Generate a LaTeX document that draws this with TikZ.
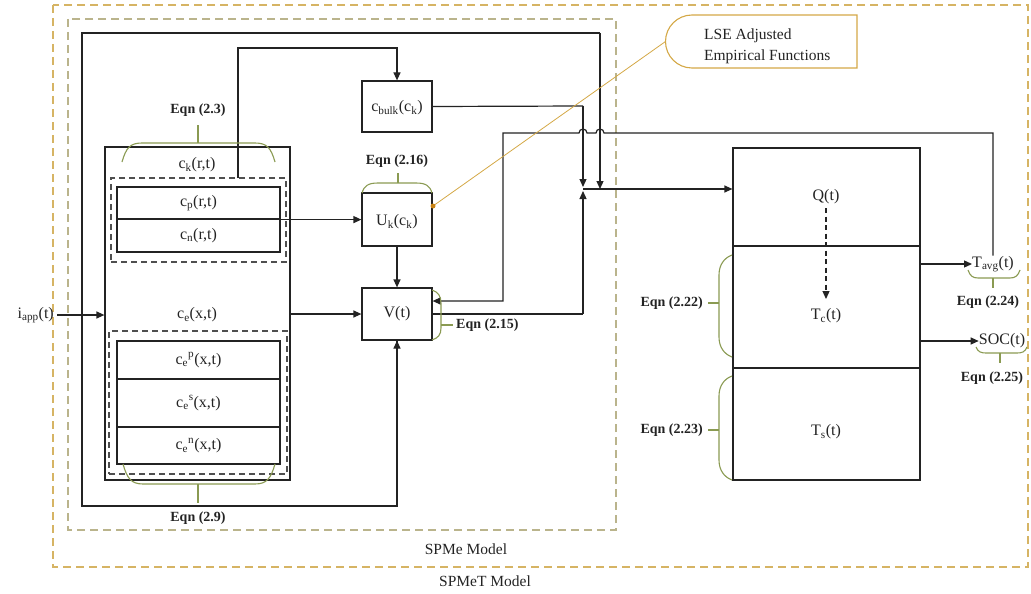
\documentclass[tikz,border=0pt]{standalone}
\usepackage{fontspec}
\setmainfont{Liberation Serif}
\usetikzlibrary{arrows.meta,calc,fit}

\definecolor{ink}{RGB}{35,35,35}
\definecolor{bracegreen}{RGB}{138,154,82}
\definecolor{framegold}{RGB}{214,180,100}
\definecolor{framekhaki}{RGB}{186,180,140}
\definecolor{callgold}{RGB}{212,168,70}
\definecolor{dotorange}{RGB}{200,130,20}

\begin{document}
\begin{tikzpicture}[x=1pt,y=-1pt,
  font=\fontsize{16}{18}\selectfont,
  wire/.style={draw=ink, line width=1.2pt},
  arr/.style={wire,-{Triangle[length=8pt,width=7pt]}},
  block/.style={draw=ink, line width=1.2pt, rectangle, inner sep=0pt},
  grpbox/.style={draw=ink!80, dash pattern=on 6pt off 4pt, line width=1.1pt, rectangle, inner sep=0pt},
  lbl/.style={inner sep=0pt, text=ink},
  eqn/.style={inner sep=0pt, text=ink, font=\fontsize{14}{16}\selectfont\bfseries},
  brace/.style={draw=bracegreen, line width=1.1pt},
  model/.style={inner sep=0pt, text=ink, font=\fontsize{15.5}{18}\selectfont}
]
\useasboundingbox (0,0) rectangle (1031,594);

% ---- model frames ----
\draw[framegold, line width=1.1pt, dash pattern=on 8pt off 5pt] (53,5) rectangle (1028,567);
\draw[framekhaki, line width=1.1pt, dash pattern=on 8pt off 5pt] (68,19) rectangle (616,530);
\node[model] (spme) at (466,549) {SPMe Model};
\node[model] (spmet) at (485,581) {SPMeT Model};

% ---- concentration blocks ----
\node[block, fit={(105,147) (290,480)}] (ck) {};
\node[grpbox, fit={(111,178) (286,262)}] (grpr) {};
\node[block, fit={(117,187) (280,219)}] (cp) {};
\node[block, fit={(117,219) (280,252)}] (cn) {};
\node[grpbox, fit={(109,331) (287,474)}] (grpx) {};
\node[block, fit={(117,341) (280,379)}] (cep) {};
\node[block, fit={(117,379) (280,427)}] (ces) {};
\node[block, fit={(117,427) (280,464)}] (cen) {};

\node[lbl] (cklbl) at (197,165) {c\textsubscript{k}(r,t)};
\node[lbl] (cplbl) at (cp) {c\textsubscript{p}(r,t)};
\node[lbl] (cnlbl) at (cn) {c\textsubscript{n}(r,t)};
\node[lbl] (celbl) at (197,315) {c\textsubscript{e}(x,t)};
\node[lbl] (ceplbl) at (cep) {c\textsubscript{e}\textsuperscript{p}(x,t)};
\node[lbl] (ceslbl) at (ces) {c\textsubscript{e}\textsuperscript{s}(x,t)};
\node[lbl] (cenlbl) at (cen) {c\textsubscript{e}\textsuperscript{n}(x,t)};

% ---- voltage blocks ----
\node[block, fit={(362,81) (432,132)}] (cbulk) {};
\node[lbl] (cbulklbl) at (397,108) {c\textsubscript{bulk}(c\textsubscript{k})};
\node[block, fit={(362,193) (432,246)}] (uk) {};
\node[lbl] (uklbl) at (397,222) {U\textsubscript{k}(c\textsubscript{k})};
\node[block, fit={(362,288) (432,340)}] (v) {};
\node[lbl] (vlbl) at (v) {V(t)};

% ---- thermal block ----
\node[block, fit={(733,148) (920,246)}] (q) {};
\node[block, fit={(733,246) (920,368)}] (tc) {};
\node[block, fit={(733,368) (920,480)}] (ts) {};
\node[lbl] (qlbl) at (826,197) {Q(t)};
\node[lbl] (tclbl) at (826,316) {T\textsubscript{c}(t)};
\node[lbl] (tslbl) at (826,432) {T\textsubscript{s}(t)};
\draw[wire, dash pattern=on 5pt off 3.5pt, -{Triangle[length=8pt,width=7pt]}] (826,208) -- (826,299);

% ---- inputs / outputs ----
\node[lbl, anchor=east] (iapp) at (54,315) {i\textsubscript{app}(t)};
\node[lbl] (tavg) at (993,264) {T\textsubscript{avg}(t)};
\node[lbl] (soc) at (1002,341) {SOC(t)};

% ---- junction points ----
\coordinate (jl) at (583,189);
\coordinate (jr) at (600,189);
\coordinate (fbcorner) at (503,301);
\coordinate (ukdot) at (433,206);
\coordinate (lsetip) at (665.5,41.5);

% ---- signal lines ----
\draw[arr] (iapp.east) ++(3,0) -- (iapp.east -| ck.west);
\draw[arr] (cp.south east) -- (cp.south east -| uk.west);
\draw[arr] (ck.east |- v.west) -- (v.west);
\draw[arr] (uk.south) -- (v.north);
\draw[arr] (238,178) -- (238,48) -- (397,48) -- (cbulk.north);
\draw[wire] (cbulk.east) -- (583,106);
\draw[arr] (583,106) -- ($(jl)+(0,-2)$);
\draw[wire] (v.east) -- (583,314);
\draw[arr] (583,314) -- ($(jl)+(0,2)$);
\draw[wire] (v.south) -- (397,506) -- (82,506) -- (82,33) -- (600,33);
\draw[arr] (600,33) -- (jr);
\draw[{Triangle[length=8pt,width=7pt]}-, wire] (v.south) -- ++(0,20);
\draw[arr] (jl) -- (jl -| q.west);
\draw[arr] (tavg.north) -- (993,133) -- (604,133) arc (0:-180:4) -- (587,133) arc (0:-180:4)
  -- (fbcorner |- 0,133) -- (fbcorner) -- (fbcorner -| v.east);
\draw[arr] (920,264) -- (tavg.west);
\draw[arr] (920,341) -- (soc.west);

% ---- equation braces ----
\draw[brace] (122,162) .. controls (126,148) and (130,143) .. (142,143) -- (255,143)
  .. controls (267,143) and (271,148) .. (275,162);
\draw[brace] (198,143) -- (198,125);
\node[eqn] (eq23) at (198,110) {Eqn (2.3)};

\draw[brace] (123,464) .. controls (127,478) and (131,484) .. (143,484) -- (255,484)
  .. controls (267,484) and (271,478) .. (275,464);
\draw[brace] (198,484) -- (198,503);
\node[eqn] (eq29) at (198,518) {Eqn (2.9)};

\draw[brace] (362,193) .. controls (364,186) and (368,183) .. (378,183) -- (416,183)
  .. controls (426,183) and (430,186) .. (432,193);
\draw[brace] (398,183) -- (398,173);
\node[eqn] (eq216) at (397,161) {Eqn (2.16)};

\draw[brace] (432,290) .. controls (438,292) and (441,296) .. (441,303) -- (441,328)
  .. controls (441,335) and (438,338) .. (432,340);
\draw[brace] (441,325) -- (453,325);
\node[eqn, anchor=west] (eq215) at (456,325) {Eqn (2.15)};

\draw[brace] (732,255) .. controls (724,258) and (719,265) .. (719,275) -- (719,337)
  .. controls (719,347) and (724,354) .. (732,357);
\draw[brace] (719,303) -- (708,303);
\node[eqn, anchor=east] (eq222) at (703,303) {Eqn (2.22)};

\draw[brace] (732,376) .. controls (724,379) and (719,386) .. (719,396) -- (719,460)
  .. controls (719,470) and (724,477) .. (732,480);
\draw[brace] (719,430) -- (708,430);
\node[eqn, anchor=east] (eq223) at (703,430) {Eqn (2.23)};

\draw[brace] (968,270) .. controls (970,276) and (973,278) .. (978,278) -- (1010,278)
  .. controls (1015,278) and (1018,276) .. (1020,270);
\draw[brace] (993,278) -- (993,288);
\node[eqn] (eq224) at (988,302) {Eqn (2.24)};

\draw[brace] (976,347) .. controls (978,352) and (981,353) .. (986,353) -- (1017,353)
  .. controls (1022,353) and (1025,352) .. (1027,347);
\draw[brace] (1000,353) -- (1000,363);
\node[eqn] (eq225) at (992,378) {Eqn (2.25)};

% ---- LSE callout ----
\draw[callgold, line width=1.1pt] (857,15) -- (692,15) arc (-90:-270:26.5) -- (857,68) -- cycle;
\node[lbl, anchor=west, align=left, font=\fontsize{15.5}{21}\selectfont] (lse) at (704,46.5)
  {LSE Adjusted\\Empirical Functions};
\draw[callgold, line width=0.8pt] (lsetip) -- (ukdot);
\fill[dotorange] (ukdot) circle (2.5);
\end{tikzpicture}
\end{document}
